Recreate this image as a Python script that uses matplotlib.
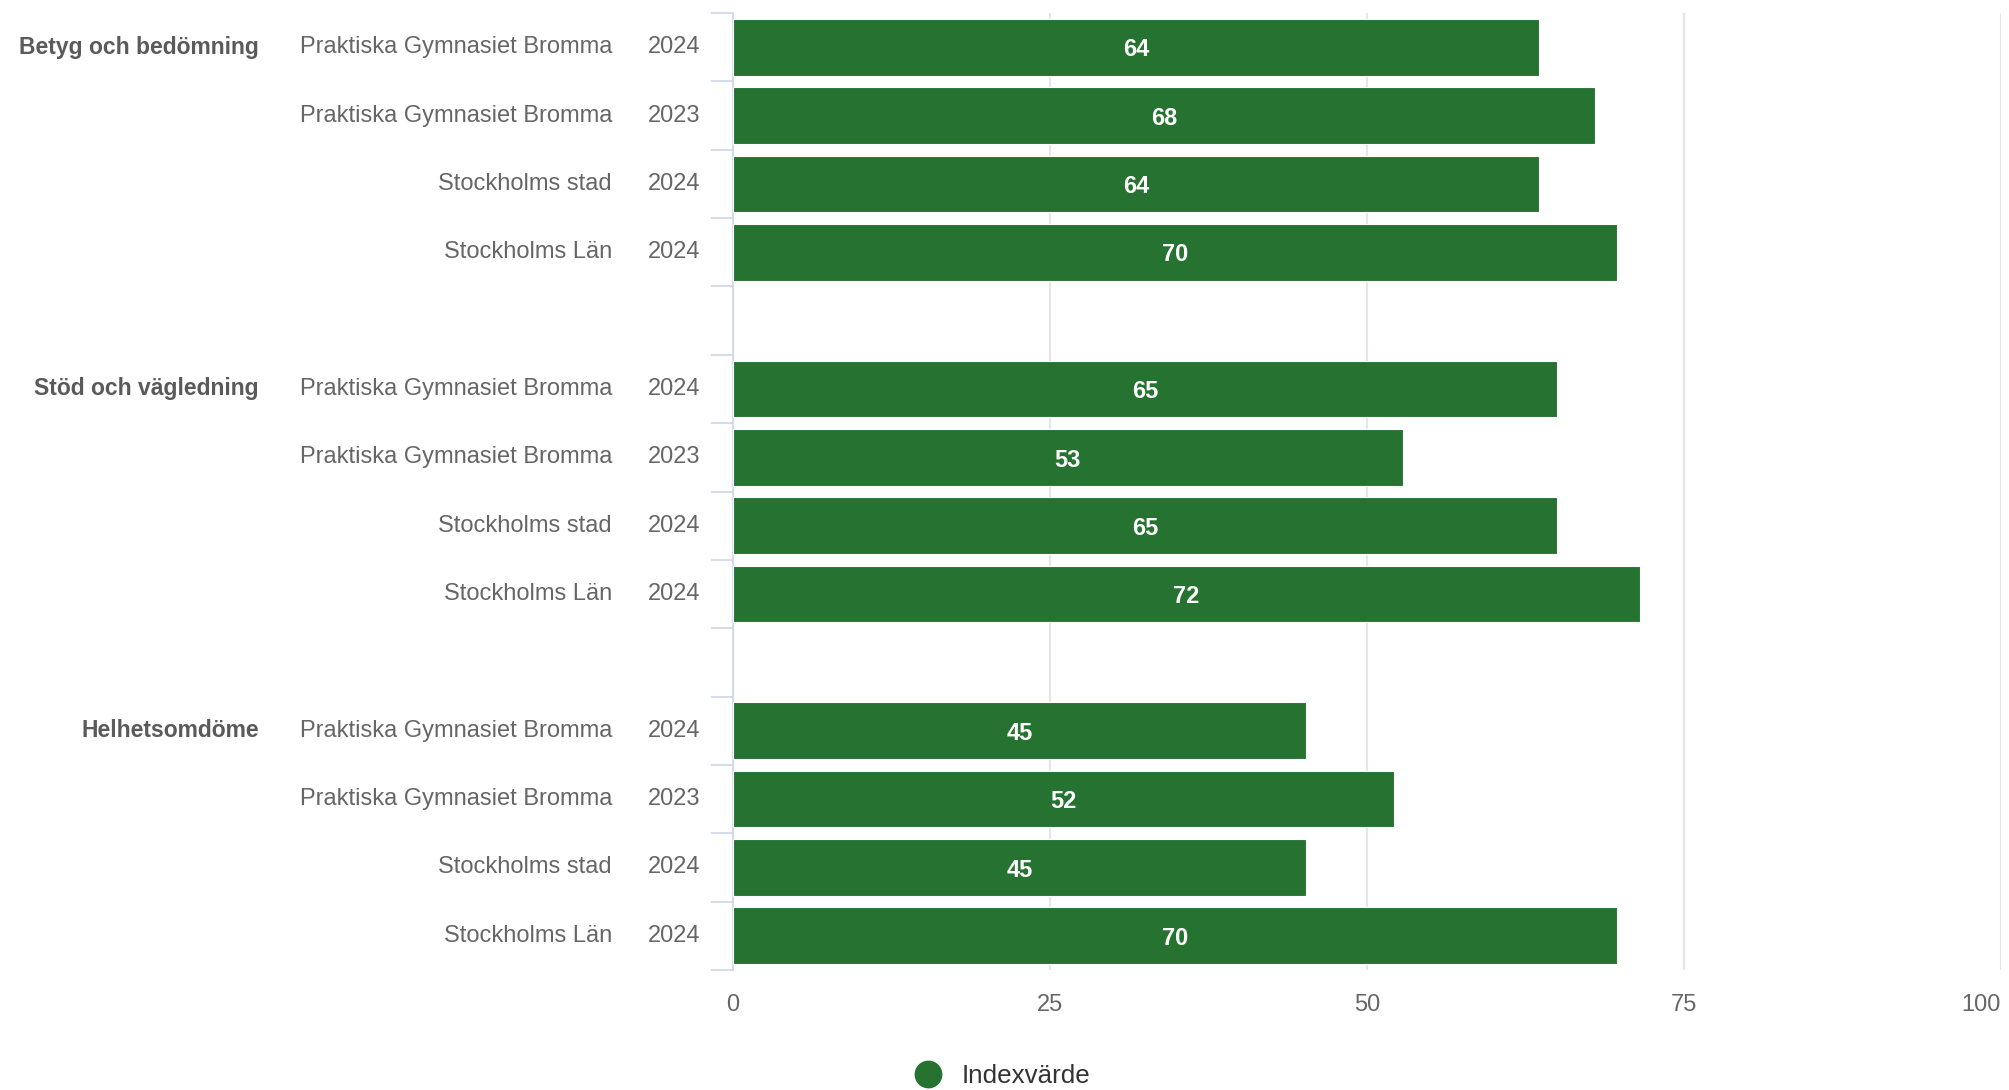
import matplotlib
matplotlib.use("Agg")
import matplotlib.pyplot as plt
from matplotlib.lines import Line2D
from matplotlib.transforms import blended_transform_factory

plt.rcParams['font.family'] = ['Liberation Sans', 'DejaVu Sans']

groups = ["Betyg och bedömning", "Stöd och vägledning", "Helhetsomdöme"]
units = ["Praktiska Gymnasiet Bromma", "Praktiska Gymnasiet Bromma",
         "Stockholms stad", "Stockholms Län"]
years = ["2024", "2023", "2024", "2024"]
values = [
    [63.6, 68.0, 63.6, 69.7],
    [65.0, 52.8, 65.0, 71.5],
    [45.2, 52.1, 45.2, 69.7],
]
xticks = [0, 25, 50, 75, 100]

green = "#267230"
W, H = 2009, 1090
fig = plt.figure(figsize=(W / 100, H / 100), dpi=100)
ax = fig.add_axes([733 / W, 1 - 970 / H, (2001 - 733) / W, (970 - 13) / H])

# positions: 4 rows per group with one empty row between groups
pos = []
for g in range(len(groups)):
    for i in range(4):
        pos.append(g * 5 + i)
flat = [v for grp in values for v in grp]

ax.barh(pos, flat, height=0.83, color=green, edgecolor="white", linewidth=0.8, zorder=3)
for p, v in zip(pos, flat):
    ax.text(v / 2, p + 0.04, f"{round(v):d}", ha="center", va="center", color="white",
            fontsize=17, fontweight="bold", zorder=4)

ax.set_xlim(0, 100)
ax.set_ylim(13.5, -0.5)

for s in ["top", "right", "bottom"]:
    ax.spines[s].set_visible(False)
ax.spines["left"].set_color("#ccd6eb")
ax.spines["left"].set_linewidth(1.2)

ax.set_xticks(xticks)
ax.set_xticklabels([str(t) for t in xticks])
ax.tick_params(axis="x", length=0, pad=17, labelsize=17, labelcolor="#666666")
ax.get_xticklabels()[-1].set_ha("right")
ax.grid(axis="x", color="#e6e6e6", linewidth=1.5, zorder=0)
ax.set_axisbelow(True)

ax.set_yticks([])
ax.set_yticks([b - 0.5 for b in range(15)], minor=True)
ax.tick_params(axis="y", which="minor", length=16, width=1.2, color="#ccd6eb")
ax.tick_params(axis="y", which="major", length=0)

tr = blended_transform_factory(fig.transFigure, ax.transData)
for g, name in enumerate(groups):
    ax.text(259 / W, g * 5, name, transform=tr, ha="right", va="center",
            fontsize=16.5, fontweight="bold", color="#5a5a5a")
for p, k in zip(pos, range(len(pos))):
    ax.text(612 / W, p, units[k % 4], transform=tr, ha="right", va="center",
            fontsize=17, color="#666666")
    ax.text(700 / W, p, years[k % 4], transform=tr, ha="right", va="center",
            fontsize=17, color="#666666")

handle = Line2D([], [], marker="o", linestyle="none", markersize=19,
                markerfacecolor=green, markeredgecolor=green)
fig.legend([handle], ["Indexvärde"], loc="center", bbox_to_anchor=(996 / W, 1 - 1076 / H),
           frameon=False, fontsize=18.7, handletextpad=0.3, labelcolor="#333333")

fig.savefig("out.png", dpi=100)
